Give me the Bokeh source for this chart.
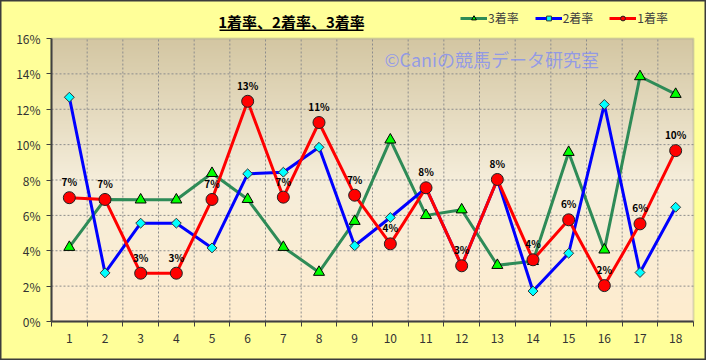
from bokeh.plotting import figure
from bokeh.models import (ColumnDataSource, FixedTicker, PrintfTickFormatter, Label, LabelSet,
                          Legend, LegendItem, BoxAnnotation, Range1d, LinearColorMapper)
from bokeh.embed import file_html
from bokeh.resources import INLINE
from bokeh.core.properties import value
import numpy as np

# ---- data (percent) ----
races = list(range(1, 19))
tick_labels = [str(r) for r in races]
rate1 = [7.0, 6.9, 2.73, 2.73, 6.9, 12.45, 7.03, 11.25, 7.14, 4.39, 7.56, 3.15, 8.03, 3.49, 5.75, 2.03, 5.52, 9.66]
rate2 = [12.68, 2.75, 5.56, 5.56, 4.16, 8.35, 8.44, 9.85, 4.28, 5.88, 7.56, 3.15, 8.03, 1.72, 3.86, 12.27, 2.77, 6.46]
rate3 = [4.2, 6.9, 6.88, 6.88, 8.38, 6.91, 4.2, 2.79, 5.67, 10.27, 6.0, 6.32, 3.18, 3.4, 9.57, 4.05, 13.85, 12.85]
labels1 = ["7%", "7%", "3%", "3%", "7%", "13%", "7%", "11%", "7%", "4%", "8%", "3%", "8%", "4%", "6%", "2%", "6%", "10%"]
y_ticks = [0, 2, 4, 6, 8, 10, 12, 14, 16]
title_text = "1着率、2着率、3着率"
watermark = "©Caniの競馬データ研究室"

FONT = "Noto Sans CJK JP"
W, H = 706, 360
# plot area in canvas pixels
PL, PR, PT, PB = 51, 693, 38, 321
X0, X1 = races[0] - 0.5, races[-1] + 0.5
Y0, Y1 = y_ticks[0], y_ticks[-1]
PX_PER_X = (PR - PL) / (X1 - X0)
PX_PER_Y = (PB - PT) / (Y1 - Y0)
XS = X0 - PL / PX_PER_X
XE = X1 + (W - PR) / PX_PER_X
YS = Y0 - (H - PB) / PX_PER_Y
YE = Y1 + PT / PX_PER_Y


def dx(px):
    return XS + px / PX_PER_X


def dy(py):
    return YE - py / PX_PER_Y


src = ColumnDataSource(dict(x=races, r1=rate1, r2=rate2, r3=rate3, lab=labels1))

p = figure(width=W, height=H, x_range=Range1d(XS, XE), y_range=Range1d(YS, YE),
           output_backend="svg", toolbar_location=None,
           min_border_left=0, min_border_right=0, min_border_top=0, min_border_bottom=0)
p.background_fill_color = "#FFFF99"
p.border_fill_color = "#FFFF99"
p.outline_line_color = "#3c3c3c"
p.outline_line_width = 2

# gradient plot-area background
stops = [(0.0, (254, 236, 206)), (0.5, (245, 237, 218)), (1.0, (211, 198, 162))]
pal = []
for t in np.linspace(0, 1, 256):
    for (t0, c0), (t1, c1) in zip(stops[:-1], stops[1:]):
        if t0 <= t <= t1:
            f = (t - t0) / (t1 - t0)
            c = [int(round(a + (b - a) * f)) for a, b in zip(c0, c1)]
            break
    pal.append("#%02x%02x%02x" % tuple(c))
grad = np.linspace(0, 1, 256).reshape(256, 1)
p.image(image=[grad], x=X0, y=Y0, dw=X1 - X0, dh=Y1 - Y0,
        color_mapper=LinearColorMapper(palette=pal, low=0, high=1), level="image")

# grid lines (limited to plot area)
p.xgrid.visible = False
p.ygrid.visible = False
vx = [r + 0.5 for r in races[:-1]]
p.segment(x0=vx, x1=vx, y0=[Y0] * len(vx), y1=[Y1] * len(vx), line_color="#8c8c8c",
          line_dash="2 2", line_width=1, level="underlay")
hy = y_ticks[1:-1]
p.segment(x0=[X0] * len(hy), x1=[X1] * len(hy), y0=hy, y1=hy, line_color="#8c8c8c",
          line_dash="2 2", line_width=1, level="underlay")
# plot-area outline
p.add_layout(BoxAnnotation(left=X0, right=X1, bottom=Y0, top=Y1, fill_alpha=0,
                           line_color="#8a8a8a", line_width=2, level="underlay"))

# axes drawn at the plot-area edges
p.xaxis.fixed_location = Y0
p.yaxis.fixed_location = X0
p.xaxis.bounds = (X0, X1)
p.yaxis.bounds = (Y0, Y1)
p.xaxis.ticker = FixedTicker(ticks=races, minor_ticks=[r - 0.5 for r in races] + [X1])
p.xaxis.major_label_overrides = {r: t for r, t in zip(races, tick_labels)}
p.xaxis.major_tick_line_color = None
p.xaxis.minor_tick_in = 0
p.xaxis.minor_tick_out = 5
p.xaxis.minor_tick_line_color = "#404040"
p.xaxis.minor_tick_line_width = 1
p.yaxis.ticker = FixedTicker(ticks=y_ticks)
p.yaxis.formatter = PrintfTickFormatter(format="%d%%")
p.yaxis.major_tick_in = 0
p.yaxis.major_tick_out = 5
p.yaxis.minor_tick_line_color = None
p.yaxis.major_tick_line_color = "#404040"
for ax in (p.xaxis, p.yaxis):
    ax.axis_line_color = "#404040"
    ax.axis_line_width = 2
    ax.major_label_text_font = FONT
    ax.major_label_text_font_size = "12px"
    ax.major_label_text_color = "#333333"
    ax.major_label_standoff = 6

# series
GREEN, BLUE, RED = "#2E8B57", "#0000FF", "#FF0000"
l3 = p.line("x", "r3", source=src, line_color=GREEN, line_width=3)
s3 = p.scatter("x", "r3", source=src, marker="triangle", size=11, fill_color="#00FF00", line_color="#000000", line_width=1)
l2 = p.line("x", "r2", source=src, line_color=BLUE, line_width=3)
s2 = p.scatter("x", "r2", source=src, marker="square", angle=np.pi / 4, size=7, fill_color="#00FFFF", line_color="#333333", line_width=1)
l1 = p.line("x", "r1", source=src, line_color=RED, line_width=3)
s1 = p.scatter("x", "r1", source=src, marker="circle", size=12, fill_color="#FF0000", line_color="#222222", line_width=1)

p.add_layout(LabelSet(x="x", y="r1", text="lab", source=src, y_offset=16, text_align="center",
                      text_baseline="middle", text_font=value(FONT), text_font_size=value("10px"),
                      text_font_style=value("bold"), text_color=value("#000000")))

# watermark
p.add_layout(Label(x=dx(384), y=dy(58), text=watermark, text_font=FONT,
                   text_font_size="18px", text_color="#7585FF", text_alpha=0.7,
                   text_baseline="middle", text_align="left"))

# title with underline
p.add_layout(Label(x=dx(291), y=dy(21), text=title_text,
                   text_font=FONT, text_font_size="15px", text_font_style="bold",
                   text_align="center", text_baseline="middle", text_color="#000000"))
p.add_layout(BoxAnnotation(left=dx(219), right=dx(363), bottom=dy(30.5), top=dy(29),
                           fill_color="#000000", fill_alpha=1, line_color=None))

legend = Legend(items=[LegendItem(label="3着率", renderers=[l3, s3]),
                       LegendItem(label="2着率", renderers=[l2, s2]),
                       LegendItem(label="1着率", renderers=[l1, s1])],
                location=(460, H - 26), orientation="horizontal", background_fill_alpha=0,
                border_line_color=None, glyph_width=27, glyph_height=12, label_standoff=1,
                spacing=16, padding=0, margin=0, label_text_font=FONT, label_text_font_size="12px",
                label_text_color="#404040", label_height=12)
p.add_layout(legend, "center")

open("out.html", "w").write(file_html(p, INLINE))
